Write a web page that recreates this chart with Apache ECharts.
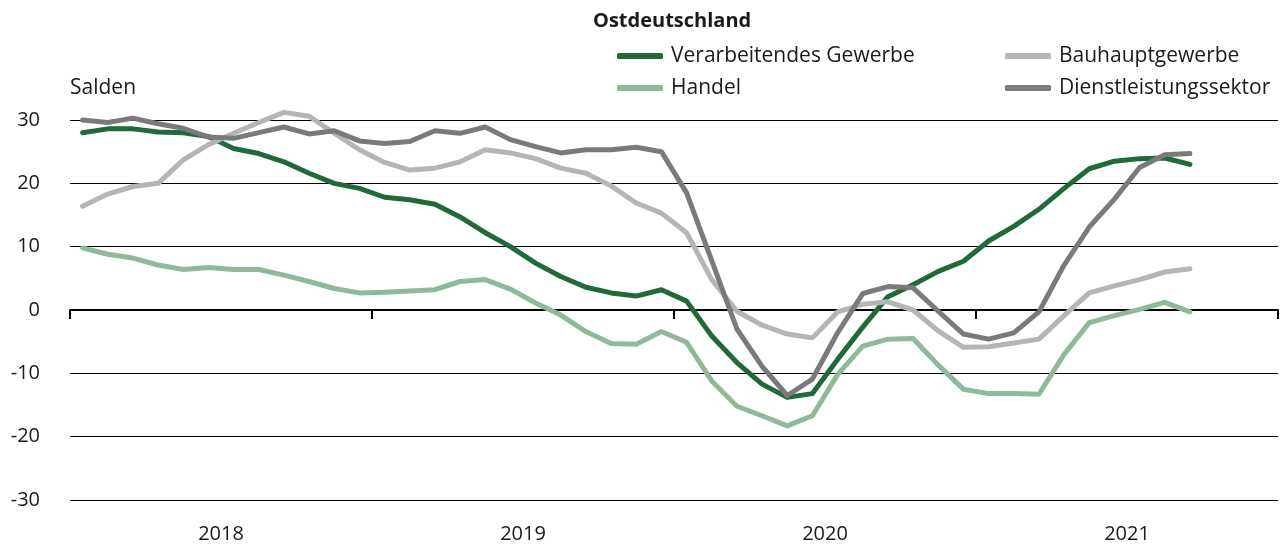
<!DOCTYPE html>
<html>
<head>
<meta charset="utf-8">
<script src="https://cdn.jsdelivr.net/npm/echarts@6/dist/echarts.min.js"></script>
<style>
  html, body { margin: 0; padding: 0; background: #fff; }
  #chart { width: 1288px; height: 549px; }
</style>
</head>
<body>
<div id="chart"></div>
<script>
// Jahre (Achsenbeschriftung) und Monate (Datenpunkte)
const years = ['2018', '2019', '2020', '2021']
const months = []
years.forEach(y => { for (let m = 1; m <= 12; m++) months.push(y + '-' + m) })

// Salden, Jan 2018 bis Sep 2021
const verarbeitendes = [
  28.0, 28.6, 28.6, 28.1, 28.0, 27.4, 25.5, 24.7, 23.4, 21.6, 20.0, 19.2,
  17.8, 17.4, 16.7, 14.7, 12.2, 10.0, 7.4, 5.3, 3.6, 2.7, 2.2, 3.2,
  1.4, -4.1, -8.3, -11.7, -13.8, -13.2, -7.8, -2.7, 2.1, 4.0, 6.1, 7.7,
  10.9, 13.2, 15.9, 19.2, 22.3, 23.5, 23.9, 24.0, 23.0
]
const bauhaupt = [
  16.4, 18.3, 19.5, 20.0, 23.7, 26.1, 27.9, 29.6, 31.2, 30.6, 27.9, 25.3,
  23.3, 22.1, 22.4, 23.4, 25.3, 24.8, 23.9, 22.4, 21.6, 19.6, 16.9, 15.3,
  12.2, 4.8, -0.2, -2.4, -3.8, -4.4, -0.3, 0.9, 1.3, 0.0, -3.3, -5.9,
  -5.8, -5.2, -4.6, -0.9, 2.7, 3.8, 4.8, 6.0, 6.5
]
const handel = [
  9.8, 8.8, 8.2, 7.1, 6.4, 6.7, 6.4, 6.4, 5.5, 4.5, 3.4, 2.7,
  2.8, 3.0, 3.2, 4.5, 4.8, 3.3, 1.1, -0.8, -3.4, -5.3, -5.4, -3.4,
  -5.1, -11.2, -15.2, -16.7, -18.3, -16.7, -10.2, -5.7, -4.6, -4.5, -8.7, -12.5,
  -13.2, -13.2, -13.3, -7.0, -2.0, -0.9, 0.1, 1.2, -0.3
]
const dienstleistung = [
  30.0, 29.6, 30.3, 29.4, 28.7, 27.3, 27.1, 28.0, 28.9, 27.8, 28.3, 26.7,
  26.3, 26.6, 28.3, 27.9, 28.9, 26.9, 25.8, 24.8, 25.3, 25.3, 25.7, 25.0,
  18.5, 7.8, -3.0, -8.9, -13.5, -10.9, -3.6, 2.6, 3.7, 3.5, -0.2, -3.8,
  -4.6, -3.6, -0.3, 7.1, 13.1, 17.5, 22.5, 24.5, 24.7
]

const fontFamily = '"Open Sans", "Noto Sans", sans-serif'
const textColor = '#1a1a1a'

const chartInstance = echarts.init(document.getElementById('chart'))

const line = (name, data, color) => ({
  name: name,
  type: 'line',
  xAxisIndex: 2,
  data: data,
  symbol: 'none',
  smooth: false,
  clip: false, // Bauhauptgewerbe geht über 30 hinaus
  lineStyle: { width: 5, color: color, cap: 'round', join: 'round' },
  itemStyle: { color: color },
  emphasis: { disabled: true }
})

const legendText = { fontFamily: fontFamily, fontSize: 21, color: textColor, lineHeight: 22, padding: [0, 0, 0, 3] }

const option = {
  animation: false,
  textStyle: { fontFamily: fontFamily },
  title: [
    {
      text: 'Ostdeutschland',
      left: 593, top: 11, padding: 0,
      textStyle: { fontFamily: fontFamily, fontSize: 20, fontWeight: 'bold', color: textColor }
    },
    {
      text: 'Salden',
      left: 70, top: 78, padding: 0,
      textStyle: { fontFamily: fontFamily, fontSize: 21, fontWeight: 'normal', color: textColor }
    }
  ],
  legend: [
    {
      left: 617, top: 45, orient: 'vertical', padding: 0,
      data: ['Verarbeitendes Gewerbe', 'Handel'],
      icon: 'roundRect', itemWidth: 46, itemHeight: 6, itemGap: 10,
      textStyle: legendText, selectedMode: false
    },
    {
      left: 1005, top: 45, orient: 'vertical', padding: 0,
      data: ['Bauhauptgewerbe', 'Dienstleistungssektor'],
      icon: 'roundRect', itemWidth: 46, itemHeight: 6, itemGap: 10,
      textStyle: legendText, selectedMode: false
    }
  ],
  grid: { left: 70, right: 10, top: 120, bottom: 49, containLabel: false },
  xAxis: [
    {
      // Jahresbeschriftung unten
      type: 'category', data: years, position: 'bottom', boundaryGap: true,
      axisLine: { show: false, onZero: false },
      axisTick: { show: false },
      axisLabel: { margin: 24, fontSize: 20, color: textColor, fontFamily: fontFamily },
      splitLine: { show: false }
    },
    {
      // Nulllinie mit Jahresstrichen
      type: 'category', data: years, position: 'bottom', boundaryGap: true,
      axisLine: { show: true, onZero: true, onZeroAxisIndex: 0, lineStyle: { color: '#000', width: 2 } },
      axisTick: { show: true, length: 9, lineStyle: { color: '#000', width: 2 } },
      axisLabel: { show: false },
      splitLine: { show: false }
    },
    {
      type: 'category', data: months, boundaryGap: true, show: false,
      axisLine: { onZero: false }
    }
  ],
  yAxis: {
    type: 'value', min: -30, max: 30, interval: 10,
    axisLine: { show: false },
    axisTick: { show: false },
    axisLabel: { margin: 30, fontSize: 20, color: textColor, fontFamily: fontFamily },
    splitLine: { show: true, lineStyle: { color: '#000', width: 1 } }
  },
  series: [
    line('Verarbeitendes Gewerbe', verarbeitendes, '#1e6a38'),
    line('Bauhauptgewerbe', bauhaupt, '#b5b5b5'),
    line('Handel', handel, '#8dba99'),
    line('Dienstleistungssektor', dienstleistung, '#7a7a7a')
  ]
}

chartInstance.setOption(option)
</script>
</body>
</html>
